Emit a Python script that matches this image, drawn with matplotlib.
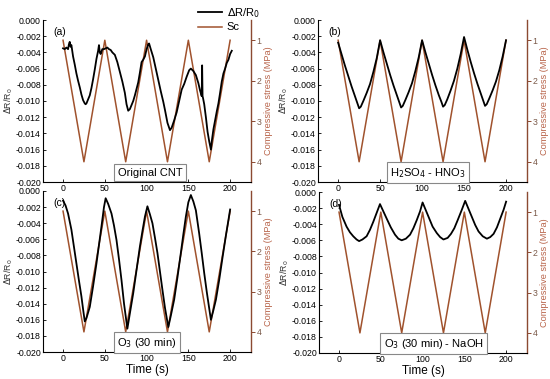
import matplotlib
matplotlib.use("Agg")
import matplotlib.pyplot as plt
from matplotlib.lines import Line2D

plt.rcParams['font.family'] = ['Liberation Sans', 'DejaVu Sans']
plt.rcParams['axes.unicode_minus'] = False

# Applied compressive stress (same loading profile for all panels)
t_sc = [0, 25, 50, 75, 100, 125, 150, 175, 200]
sc = [1, 4, 1, 4, 1, 4, 1, 4, 1]

# (a) Original CNT
t_a = [0, 2, 4, 6, 7, 8, 9, 10, 12, 14, 16, 18, 20, 22, 24, 26, 27, 28, 30, 32, 34, 36, 38, 40,
       42, 43, 44, 45, 47, 49, 51, 53, 55, 57, 59, 62, 65, 68, 71, 74, 76, 78, 80, 82, 84, 86,
       88, 90, 92, 94, 96, 98, 100, 102, 103, 105, 108, 111, 114, 117, 120, 122, 125, 128, 130,
       133, 136, 139, 142, 145, 148, 151, 153, 156, 159, 162, 164, 166, 166.5, 167, 167.5, 169,
       171, 173, 175, 177, 178, 180, 182, 184, 186, 188, 190, 192, 194, 196, 198, 200, 202]
r_a = [-0.0035, -0.0036, -0.0034, -0.0036, -0.0030, -0.0027, -0.0033, -0.0031, -0.0045, -0.0055,
       -0.0066, -0.0075, -0.0083, -0.0092, -0.0099, -0.0103, -0.0104, -0.0103, -0.0098, -0.0093,
       -0.0084, -0.0073, -0.0061, -0.0048, -0.0038, -0.0031, -0.0040, -0.0042, -0.0036, -0.0036,
       -0.0035, -0.0034, -0.0036, -0.0037, -0.0040, -0.0043, -0.0052, -0.0064, -0.0076, -0.0090,
       -0.0104, -0.0112, -0.0110, -0.0105, -0.0100, -0.0093, -0.0085, -0.0077, -0.0065, -0.0052,
       -0.0049, -0.0045, -0.0036, -0.0030, -0.0029, -0.0036, -0.0046, -0.0060, -0.0074, -0.0088,
       -0.0101, -0.0111, -0.0127, -0.0136, -0.0133, -0.0124, -0.0114, -0.0100, -0.0086, -0.0079,
       -0.0070, -0.0062, -0.0060, -0.0063, -0.0068, -0.0078, -0.0087, -0.0094, -0.0056, -0.0094,
       -0.0096, -0.0104, -0.0120, -0.0138, -0.0150, -0.0160, -0.0150, -0.0135, -0.0124, -0.0113,
       -0.0103, -0.0090, -0.0076, -0.0066, -0.0060, -0.0053, -0.0049, -0.0042, -0.0038]

# (b) H2SO4 - HNO3
t_b = [0, 4, 8, 12, 16, 20, 23, 25, 27, 30, 34, 38, 42, 46, 50,
       54, 58, 62, 66, 70, 73, 75, 77, 80, 84, 88, 92, 96, 100,
       104, 108, 112, 116, 120, 123, 125, 127, 130, 134, 138, 142, 146, 150,
       154, 158, 162, 166, 170, 173, 175, 177, 180, 184, 188, 192, 196, 200]
r_b = [-0.0028, -0.0042, -0.0056, -0.0069, -0.0082, -0.0094, -0.0103, -0.0109, -0.0107, -0.0100,
       -0.0090, -0.0079, -0.0064, -0.0047, -0.0025,
       -0.0040, -0.0054, -0.0068, -0.0081, -0.0093, -0.0102, -0.0108, -0.0106, -0.0099, -0.0089,
       -0.0078, -0.0063, -0.0046, -0.0025,
       -0.0040, -0.0054, -0.0068, -0.0081, -0.0093, -0.0101, -0.0107, -0.0105, -0.0098, -0.0087,
       -0.0075, -0.0060, -0.0042, -0.0021,
       -0.0037, -0.0052, -0.0066, -0.0079, -0.0091, -0.0100, -0.0106, -0.0104, -0.0097, -0.0087,
       -0.0076, -0.0062, -0.0045, -0.0025]

# (c) O3 (30 min)
t_c = [0, 3, 6, 10, 13, 16, 19, 22, 24, 26, 28, 32, 36, 40, 43, 46, 49, 51, 54, 58, 61, 64, 67,
       70, 73, 77, 80, 84, 88, 92, 95, 98, 101, 104, 107, 110, 113, 116, 119, 122, 126, 129, 133,
       137, 141, 144, 147, 150, 153, 156, 159, 163, 166, 169, 172, 175, 177, 180, 183, 187, 191,
       195, 198, 200]
r_c = [-0.0012, -0.0018, -0.0028, -0.0048, -0.0069, -0.0090, -0.0111, -0.0131, -0.0147, -0.0162,
       -0.0158, -0.0144, -0.0118, -0.0090, -0.0067, -0.0044, -0.0020, -0.0009, -0.0016, -0.0028,
       -0.0043, -0.0061, -0.0085, -0.0111, -0.0140, -0.0171, -0.0152, -0.0127, -0.0098, -0.0069,
       -0.0050, -0.0032, -0.0019, -0.0029, -0.0040, -0.0058, -0.0077, -0.0100, -0.0123, -0.0145,
       -0.0169, -0.0155, -0.0135, -0.0107, -0.0077, -0.0054, -0.0032, -0.0014, -0.0005, -0.0013,
       -0.0024, -0.0053, -0.0077, -0.0102, -0.0125, -0.0146, -0.0160, -0.0148, -0.0135, -0.0110,
       -0.0082, -0.0055, -0.0036, -0.0023]

# (d) O3 (30 min) - NaOH
t_d = [0, 4, 9, 13, 17, 21, 24, 28, 33, 37, 41, 45, 49,
       53, 57, 62, 67, 71, 75, 80, 85, 89, 93, 97, 100,
       104, 108, 112, 117, 121, 125, 130, 134, 138, 142, 147, 151,
       155, 159, 163, 167, 172, 177, 181, 185, 189, 193, 197, 200]
r_d = [-0.0016, -0.0031, -0.0043, -0.0050, -0.0055, -0.0059, -0.0061, -0.0059, -0.0055, -0.0047,
       -0.0037, -0.0026, -0.0015,
       -0.0024, -0.0033, -0.0044, -0.0053, -0.0058, -0.0060, -0.0058, -0.0053, -0.0045, -0.0035,
       -0.0024, -0.0013,
       -0.0023, -0.0033, -0.0043, -0.0051, -0.0056, -0.0059, -0.0057, -0.0052, -0.0045, -0.0035,
       -0.0022, -0.0011,
       -0.0021, -0.0031, -0.0041, -0.0049, -0.0055, -0.0058, -0.0056, -0.0052, -0.0044, -0.0033,
       -0.0022, -0.0012]

panel_labels = ['(a)', '(b)', '(c)', '(d)']
box_texts = ['Original CNT', r'H$_2$SO$_4$ - HNO$_3$', r'O$_3$ (30 min)', r'O$_3$ (30 min) - NaOH']
box_x = [0.515, 0.526, 0.50, 0.55]
x_ticks = [0, 50, 100, 150, 200]
y_ticks = [-0.020, -0.018, -0.016, -0.014, -0.012, -0.010, -0.008, -0.006, -0.004, -0.002, 0.000]
sc_ticks = [1, 2, 3, 4]

BROWN = '#a0522d'
AXBROWN = '#8b4a32'
LBLBROWN = '#b8644a'

W, H = 550, 379
fig = plt.figure(figsize=(5.5, 3.79), dpi=100)

boxes = [(43, 251, 20, 182), (318, 527, 20, 182), (43, 251, 191, 352), (319, 527, 192, 353)]
series = [(t_a, r_a), (t_b, r_b), (t_c, r_c), (t_d, r_d)]

for i, ((l, r, t, b), (tt, rr)) in enumerate(zip(boxes, series)):
    ax = fig.add_axes([l / W, 1 - b / H, (r - l) / W, (b - t) / H])
    ax.plot(tt, rr, color='black', lw=1.3, zorder=3)
    ax.set_xlim(-24, 225)
    ax.set_ylim(-0.020, 0.0)
    ax.set_yticks(y_ticks)
    ax.set_yticklabels([f'{v:.3f}' for v in y_ticks], fontsize=6.3)
    ax.set_xticks(x_ticks)
    ax.set_xticklabels([str(v) for v in x_ticks], fontsize=6.3)
    ax.tick_params(axis='both', direction='in', length=2, width=0.6, pad=1.5)
    ax.spines['top'].set_visible(False)
    ax.spines['right'].set_visible(False)
    ax.spines['left'].set_linewidth(0.8)
    ax.spines['bottom'].set_linewidth(0.8)
    ax.patch.set_alpha(0)
    ax.set_ylabel(r'$\Delta$R/R$_0$', fontsize=6.3, labelpad=1, color='#333333')
    if i >= 2:
        ax.set_xlabel('Time (s)', fontsize=8.5, labelpad=1)
    ax.text(0.05, 0.926, panel_labels[i], transform=ax.transAxes, fontsize=7.5,
            ha='left', va='center')
    ax.text(box_x[i], 0.058, box_texts[i], transform=ax.transAxes, fontsize=8,
            ha='center', va='center', zorder=5,
            bbox=dict(boxstyle='square,pad=0.3', fc='white', ec='#888888', lw=0.8))

    ax2 = ax.twinx()
    ax2.plot(t_sc, sc, color=BROWN, lw=1.1, zorder=2)
    ax2.set_ylim(4.5, 0.5)
    ax2.set_yticks(sc_ticks)
    ax2.set_yticklabels([str(v) for v in sc_ticks], fontsize=6.3, color='#7a5a4a')
    ax2.tick_params(axis='y', direction='out', length=3, width=0.7, colors=AXBROWN, pad=1)
    for tl in ax2.get_yticklabels():
        tl.set_color('#7a5a4a')
    for s in ['top', 'left', 'bottom']:
        ax2.spines[s].set_visible(False)
    ax2.spines['right'].set_color(AXBROWN)
    ax2.spines['right'].set_linewidth(1.0)
    ax2.set_ylabel('Compressive stress (MPa)', fontsize=6.6, color=LBLBROWN, labelpad=1.5)
    ax2.set_zorder(ax.get_zorder() - 1)
    ax.set_zorder(ax2.get_zorder() + 1)

handles = [Line2D([], [], color='black', lw=1.3), Line2D([], [], color=BROWN, lw=1.1)]
fig.legend(handles, [r'$\Delta$R/R$_0$', 'Sc'], loc='upper left',
           bbox_to_anchor=(190 / W, 1.005), frameon=False, fontsize=8,
           handlelength=2.2, handletextpad=0.4, labelspacing=0.25, borderpad=0.2)

fig.savefig('out.png', dpi=100)
